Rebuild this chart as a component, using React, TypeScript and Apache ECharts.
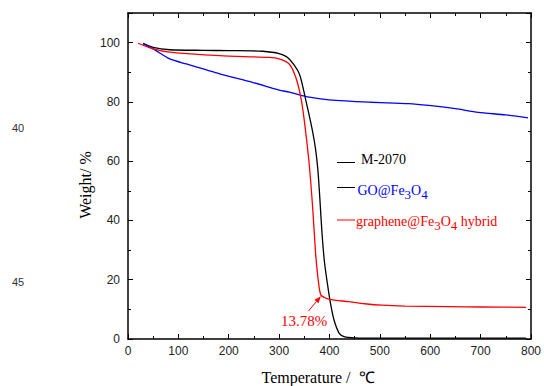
import React, { useEffect, useRef } from "react";
import * as echarts from "echarts";

// ---- data ----
const m2070T = [30, 50, 83, 150, 200, 267, 300, 320, 340, 353, 366, 372, 377, 381, 385, 390, 396, 402, 409, 419, 429, 450, 500, 600, 700, 790];
const m2070W = [99.8, 98.4, 97.6, 97.4, 97.3, 97.1, 96.3, 94.5, 89.5, 80.5, 70.4, 64.5, 57.0, 47.0, 36.0, 26.0, 18.5, 12.0, 6.4, 2.0, 0.8, 0.4, 0.3, 0.3, 0.3, 0.3];

const goT = [30, 50, 83, 116, 182, 247, 300, 320, 360, 399, 478, 557, 597, 650, 695, 750, 794];
const goW = [99.6, 97.9, 94.5, 92.8, 89.5, 86.6, 84.0, 83.3, 81.6, 80.7, 79.9, 79.4, 78.8, 77.7, 76.5, 75.6, 74.6];

const hybT = [20, 50, 83, 182, 280, 300, 320, 333, 343, 350, 359, 365, 369, 373, 379, 383, 390, 400, 438, 470, 504, 550, 636, 700, 790];
const hybW = [99.8, 97.9, 96.8, 95.6, 95.0, 94.5, 92.8, 88.3, 81.6, 73.7, 60.3, 48.0, 38.0, 27.7, 18.0, 14.8, 14.0, 13.4, 12.6, 11.9, 11.4, 11.1, 10.9, 10.8, 10.7];

const xTicks = { min: 0, max: 800, interval: 100 };
const yTicks = { min: 0, max: 110, interval: 20 };
const annotationPoint = [383, 14.8];
const annotationText = "13.78%";

const zip = (a: number[], b: number[]) => a.map((v, i) => [v, b[i]]);

const serif = "Liberation Serif";
const sans = "Liberation Sans";

export default function App() {
  const ref = useRef<HTMLDivElement>(null);
  useEffect(() => {
    if (!ref.current) return;
    const chart = echarts.init(ref.current, undefined, { renderer: "svg" });
    const axisLine = { onZero: false, lineStyle: { color: "#000", width: 1.5 } };
    const tick = { inside: true, length: 5, lineStyle: { color: "#000", width: 1 } };
    const minor = { show: true, splitNumber: 2, length: 3, lineStyle: { color: "#000", width: 1 } };
    const label = { color: "#222", fontFamily: sans, fontSize: 12 };
    const mk = (name: string, T: number[], W: number[], color: string) => ({
      name,
      type: "line",
      data: zip(T, W),
      showSymbol: false,
      smooth: 0.25,
      lineStyle: { color, width: 1.3 },
      itemStyle: { color },
      z: 3,
    });
    chart.setOption({
      animation: false,
      grid: { left: 128, right: 11, top: 13, bottom: 47 },
      xAxis: [
        {
          type: "value", ...xTicks, position: "bottom",
          axisLine, axisTick: tick, minorTick: minor,
          axisLabel: { ...label, margin: 6 },
          splitLine: { show: false }, minorSplitLine: { show: false },
        },
        {
          type: "value", ...xTicks, position: "top",
          axisLine, axisTick: tick, minorTick: minor,
          axisLabel: { show: false },
          splitLine: { show: false },
        },
      ],
      yAxis: [
        {
          type: "value", ...yTicks, position: "left",
          axisLine, axisTick: tick, minorTick: minor,
          axisLabel: { ...label, margin: 8, formatter: (v: number) => (v > 100 ? "" : String(v)) },
          splitLine: { show: false },
        },
        {
          type: "value", ...yTicks, position: "right",
          axisLine, axisTick: tick, minorTick: minor,
          axisLabel: { show: false },
          splitLine: { show: false },
        },
      ],
      series: [
        mk("M-2070", m2070T, m2070W, "#000000"),
        mk("GO@Fe3O4", goT, goW, "#0000ff"),
        mk("graphene@Fe3O4 hybrid", hybT, hybW, "#ff0000"),
      ],
    });

    const tip = chart.convertToPixel({ gridIndex: 0 }, annotationPoint) as number[];
    const tx = tip[0], ty = tip[1] + 1;
    const tail = [tx - 12.5, ty + 15];
    const dx = tx - tail[0], dy = ty - tail[1];
    const len = Math.hypot(dx, dy);
    const ux = dx / len, uy = dy / len;
    const bx = tx - ux * 7, by = ty - uy * 7;
    const px = -uy * 2.6, py = ux * 2.6;

    const sub = (size: number) => ({ fontSize: size, fontFamily: serif, lineHeight: 13, padding: [5, 0, 0, 0], verticalAlign: "top" });
    const base = (size: number) => ({ fontSize: size, fontFamily: serif, lineHeight: 16, verticalAlign: "top" });

    chart.setOption({
      graphic: [
        // legend
        { type: "line", shape: { x1: 337, y1: 162.5, x2: 355, y2: 162.5 }, style: { stroke: "#000", lineWidth: 1 } },
        { type: "text", style: { x: 361, y: 152, text: "{b|M-2070}", fill: "#000", rich: { b: { ...base(14), color: "#000" } } } },
        { type: "line", shape: { x1: 337, y1: 187.5, x2: 355, y2: 187.5 }, style: { stroke: "#000", lineWidth: 1 } },
        {
          type: "text",
          style: {
            x: 357.5, y: 183, fill: "#0000ff",
            text: "{b|GO@Fe}{s|3}{b|O}{s|4}",
            rich: { b: { ...base(14), color: "#0000ff" }, s: { ...sub(13), color: "#0000ff" } },
          },
        },
        { type: "line", shape: { x1: 337, y1: 220, x2: 355, y2: 220 }, style: { stroke: "#ff0000", lineWidth: 1 } },
        {
          type: "text",
          style: {
            x: 356, y: 214, fill: "#ff0000",
            text: "{b|graphene@Fe}{s|3}{b|O}{s|4}{b| hybrid}",
            rich: { b: { ...base(14), color: "#ff0000" }, s: { ...sub(13), color: "#ff0000" } },
          },
        },
        // annotation
        { type: "line", shape: { x1: tail[0], y1: tail[1], x2: bx, y2: by }, style: { stroke: "#ff0000", lineWidth: 1 } },
        {
          type: "polygon",
          shape: { points: [[tx, ty], [bx + px, by + py], [bx - px, by - py]] },
          style: { fill: "#ff0000" },
        },
        {
          type: "text",
          style: { x: 304, y: 321, text: annotationText, fill: "#ff0000", font: `15px "${serif}"`, align: "center", verticalAlign: "middle" },
        },
        // axis titles
        {
          type: "text",
          x: 85, y: 185, rotation: Math.PI / 2,
          style: { x: 0, y: 0, text: "Weight/ %", fill: "#000", font: `16px "${serif}"`, align: "center", verticalAlign: "middle" },
        },
        {
          type: "text",
          style: { x: 318, y: 377, text: "Temperature /  ℃", fill: "#000", font: `16px "${serif}"`, align: "center", verticalAlign: "middle" },
        },
        // stray line numbers on the page
        { type: "text", style: { x: 12, y: 128, text: "40", fill: "#333", font: `11px "${sans}"`, verticalAlign: "middle" } },
        { type: "text", style: { x: 12, y: 282, text: "45", fill: "#333", font: `11px "${sans}"`, verticalAlign: "middle" } },
      ],
    });
    return () => chart.dispose();
  }, []);
  return <div ref={ref} style={{ width: 544, height: 386, position: "absolute", left: 0, top: 0 }} />;
}
